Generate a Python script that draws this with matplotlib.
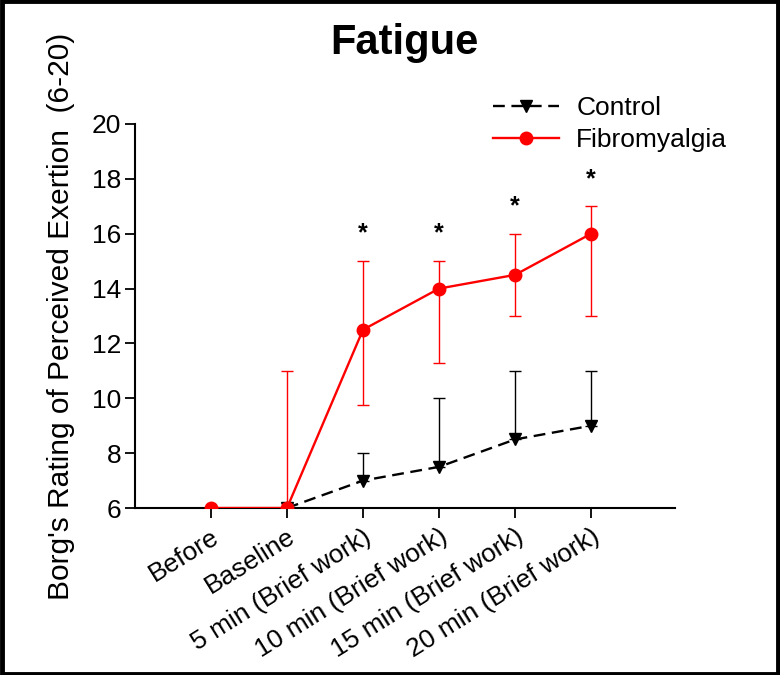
import matplotlib
matplotlib.use("Agg")
import matplotlib.pyplot as plt
import matplotlib.transforms as mtransforms
from matplotlib.patches import Rectangle

plt.rcParams['font.family'] = ['Liberation Sans', 'DejaVu Sans']

# data
labels = ["Before", "Baseline", "5 min (Brief work)", "10 min (Brief work)",
          "15 min (Brief work)", "20 min (Brief work)"]
x = [1, 2, 3, 4, 5, 6]

control = [6, 6, 7, 7.5, 8.5, 9]
control_upper = [6, 6, 8, 10, 11, 11]

fibro = [6, 6, 12.5, 14, 14.5, 16]
fibro_lower = [6, 6, 9.75, 11.3, 13, 13]
fibro_upper = [6, 11, 15, 15, 16, 17]

star_x = [3, 4, 5, 6]
star_y = [16, 16, 17, 18]

fig = plt.figure(figsize=(7.8, 6.75), dpi=100)
ax = fig.add_axes([0.173, 0.2474, 0.692, 0.5689])

# error bars (control: upper only)
c_up = [u - v for u, v in zip(control_upper, control)]
f_lo = [v - l for v, l in zip(fibro, fibro_lower)]
f_up = [u - v for u, v in zip(fibro_upper, fibro)]

ax.errorbar(x[2:], control[2:], yerr=[[0] * 4, c_up[2:]], fmt='none',
            ecolor='black', elinewidth=1, capsize=4.5, capthick=1, zorder=2)
ax.errorbar(x[1:], fibro[1:], yerr=[f_lo[1:], f_up[1:]], fmt='none',
            ecolor='red', elinewidth=1, capsize=4.5, capthick=1, zorder=2)

ax.plot(x[1:], control[1:], color='black', linestyle=(0, (5, 2.8)), linewidth=1.7,
        marker='v', markersize=9, label='Control', zorder=3)
ax.plot(x, fibro, color='red', linewidth=1.7, marker='o', markersize=9,
        label='Fibromyalgia', zorder=4)

for sx, sy in zip(star_x, star_y):
    ax.text(sx, sy, "*", ha='center', va='center', fontsize=18, fontweight='bold')

ax.set_xlim(0, 7.1)
ax.set_ylim(6, 20)
ax.set_yticks(range(6, 21, 2))
ax.set_xticks(x)
ax.set_xticklabels(labels, rotation=32, ha='right', va='top', rotation_mode='anchor',
                   fontsize=19)
offset = mtransforms.ScaledTranslation(7 / 100, 0, fig.dpi_scale_trans)
for lbl in ax.get_xticklabels():
    lbl.set_transform(lbl.get_transform() + offset)
ax.tick_params(axis='y', labelsize=19, direction='out', length=7, width=1.3, pad=3)
ax.tick_params(axis='x', direction='out', length=7, width=1.3, pad=5)
for s in ['top', 'right']:
    ax.spines[s].set_visible(False)
for s in ['left', 'bottom']:
    ax.spines[s].set_linewidth(1.5)

ax.set_ylabel("Borg's Rating of Perceived Exertion  (6-20)", fontsize=21.5, labelpad=12)
fig.text(0.518, 0.936, "Fatigue", ha='center', va='center', fontsize=30, fontweight='bold')

fig.legend(loc='upper left', bbox_to_anchor=(493 / 780, 1 - 96 / 675),
           bbox_transform=fig.transFigure, frameon=False, fontsize=19,
           handlelength=2.5, handletextpad=0.65, labelspacing=0.3,
           borderpad=0, borderaxespad=0)

fig.patches.append(Rectangle((0.002, 0.002), 0.996, 0.996, transform=fig.transFigure,
                             fill=False, edgecolor='black', linewidth=3.5))

fig.savefig("out.png", dpi=100)
